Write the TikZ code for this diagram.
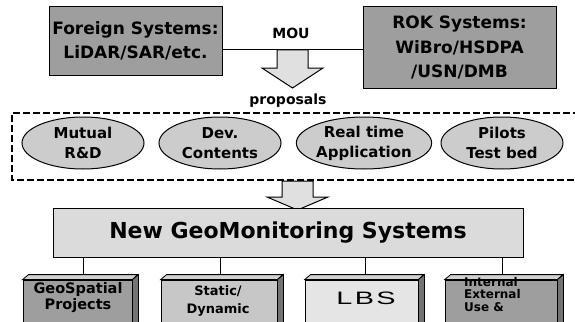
\documentclass[tikz,border=0pt]{standalone}
\usepackage{fontspec}
\setmainfont{DejaVu Sans}
\newfontfamily\lbsfont{Liberation Sans}
\usetikzlibrary{shapes.geometric}
\definecolor{boxdark}{gray}{0.62}
\definecolor{boxmid}{gray}{0.78}
\definecolor{boxlight}{gray}{0.9}
\definecolor{ellfill}{gray}{0.8}
\definecolor{bigfill}{gray}{0.86}
\definecolor{arrfill}{gray}{0.88}
\definecolor{sidefill}{gray}{0.45}
\definecolor{topfill}{gray}{0.82}
\tikzset{
  sysbox/.style={draw=black, line width=1pt, fill=boxdark, minimum width=#1, inner sep=0pt, align=center, font=\bfseries\fontsize{17}{24.5}\selectfont},
  prop/.style={ellipse, draw=black, line width=1pt, fill=ellfill, minimum width=122pt, minimum height=52pt, inner sep=0pt, align=center, font=\bfseries\fontsize{15}{20}\selectfont},
  face/.style={draw=black, line width=0.8pt, inner sep=0pt, minimum height=50pt},
  blockarrow/.style={draw=black, line width=1pt, fill=arrfill},
  conn/.style={draw=black, line width=1pt},
  lbl/.style={inner sep=0pt, align=center}
}
\begin{document}
\begin{tikzpicture}[x=1pt,y=-1pt]
\clip (0,0) rectangle (575,321);
\fill[white] (0,0) rectangle (575,321);

% top systems
\node[sysbox=173pt, minimum height=68pt] (foreign) at (135.5,41) {Foreign Systems:\\LiDAR/SAR/etc.};
\node[sysbox=193pt, minimum height=81pt] (rok) at (459.5,47.5) {ROK Systems:\\WiBro/HSDPA\\/USN/DMB};
\coordinate (mid1) at (292.5,50);
\draw[conn] (foreign.east |- mid1) -- (rok.west |- mid1);
\node[lbl, font=\bfseries\fontsize{14}{16}\selectfont] (mou) at (291,33) {MOU};

% arrow 1
\draw[blockarrow] (277,50) -- (308,50) -- (308,68) -- (323,68) -- (292.5,88) -- (262,68) -- (277,68) -- cycle;
\node[lbl, font=\bfseries\fontsize{14}{16}\selectfont] (proposals) at (288,101) {proposals};

% dashed frame
\draw[line width=2pt, dash pattern=on 7pt off 3pt] (580,113) -- (12,113) -- (12,180) -- (580,180);
\node[prop] (p1) at (83,143) {Mutual\\R\&D};
\node[prop] (p2) at (220,143) {Dev.\\Contents};
\node[prop] (p3) at (364,143) {Real time\\Application};
\node[prop] (p4) at (502,143) {Pilots\\Test bed};

% arrow 2
\draw[blockarrow] (282,181) -- (313,181) -- (313,197) -- (328,197) -- (297.5,210) -- (267,197) -- (282,197) -- cycle;

% big box
\node[draw=black, line width=1pt, fill=bigfill, minimum width=470pt, minimum height=49pt, inner sep=0pt, font=\bfseries\fontsize{22}{26}\selectfont] (big) at (288,232.5) {New GeoMonitoring Systems};

% bottom prism boxes
\foreach \n/\xa/\xb/\col in {b1/23/132/boxdark, b2/161/277/boxmid, b3/305/418/boxlight, b4/445/557/boxdark}{
  \node[face, fill=\col, minimum width=\xb pt-\xa pt] (\n) at ({(\xa+\xb)/2},305) {};
  \draw[black, line width=0.8pt, fill=topfill] (\n.north west) -- ++(6,-5) -- ++(\xb-\xa,0) -- (\n.north east) -- cycle;
  \draw[black, line width=0.8pt, fill=sidefill] (\n.north east) -- ++(6,-5) -- ++(0,55) -- (\n.south east) -- cycle;
}
\coordinate (c1) at (83,275);
\coordinate (c2) at (220,275);
\coordinate (c3) at (365,275);
\coordinate (c4) at (502,275);
\foreach \c in {c1,c2,c3,c4}{\draw[conn] (big.south -| \c) -- (\c);}

\node[lbl, font=\bfseries\fontsize{14.5}{16}\selectfont] (t1) at (78,297.5) {GeoSpatial\\Projects};
\node[lbl, font=\bfseries\fontsize{13}{18}\selectfont] (t2) at (218,301) {Static/\\Dynamic};
\node[lbl, font=\lbsfont\fontsize{18}{22}\selectfont] (t3) at (366,298) {\scalebox{1.6}[1]{L\kern1.5pt B\kern1.5pt S}};
\node[lbl, anchor=north west, align=left, font=\bfseries\fontsize{12}{12.5}\selectfont] (t4) at (464,277) {Internal\\External\\Use \&};
\end{tikzpicture}
\end{document}
